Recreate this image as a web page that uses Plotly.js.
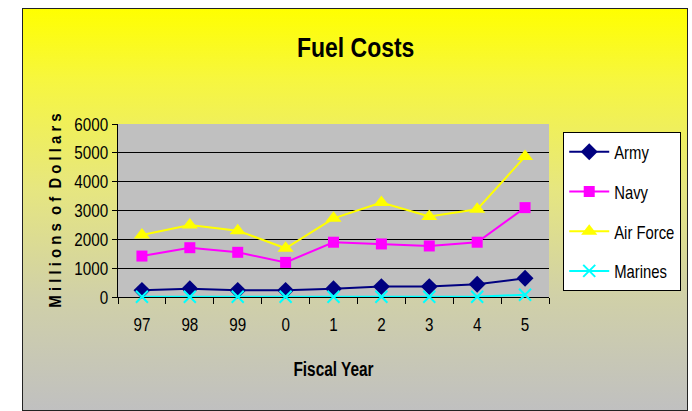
<!DOCTYPE html>
<html>
<head>
<meta charset="utf-8">
<script src="https://cdn.plot.ly/plotly-3.0.1.min.js"></script>
<style>
html,body{margin:0;padding:0;background:#ffffff;}
#frame{position:absolute;left:22px;top:8px;width:664px;height:401px;border:1px solid #222;
background:linear-gradient(to bottom,#ffff00 0%,#f6f640 18%,#e6e680 45%,#d0d0a8 72%,#c0c0c0 100%);}
#chart{position:absolute;left:0;top:0;width:692px;height:411px;}
</style>
</head>
<body>
<div id="frame"></div>
<div id="chart"></div>
<script>
const years = ["97","98","99","0","1","2","3","4","5"];
const army = [230, 290, 230, 230, 290, 360, 360, 440, 650];
const navy = [1420, 1710, 1550, 1200, 1900, 1840, 1770, 1900, 3100];
const airForce = [2150, 2500, 2300, 1690, 2730, 3280, 2790, 3040, 4870];
const marines = [10, 10, 10, 10, 10, 10, 10, 10, 80];
const yTicks = [0, 1000, 2000, 3000, 4000, 5000, 6000];

const F = "'Liberation Sans', Arial, sans-serif";

function tr(name, y, color, symbol, size, grp) {
  return {
    x: years, y: y, name: name, type: 'scatter', mode: 'lines+markers',
    legendgroup: grp, cliponaxis: false,
    line: {color: color, width: 2},
    marker: {symbol: symbol, size: size, color: color, line: {color: color, width: symbol.indexOf('x') === 0 ? 2 : 0}}
  };
}

const data = [
  tr('Army', army, '#000080', 'diamond', 13, 'a'),
  tr('Navy', navy, '#ff00ff', 'square', 11, 'b'),
  tr('Air Force', airForce, '#ffff00', 'triangle-up', 14, 'c'),
  tr('Marines', marines, '#00ffff', 'x-thin-open', 12, 'd')
];

const layout = {
  width: 692, height: 411,
  paper_bgcolor: 'rgba(0,0,0,0)',
  plot_bgcolor: '#c0c0c0',
  margin: {l: 118, r: 143, t: 124, b: 114, autoexpand: false},
  font: {family: F, size: 19, color: '#000'},
  title: {text: '<b>Fuel Costs</b>', font: {family: F, size: 28, color: '#000'},
          x: 0.514, xref: 'container', xanchor: 'center', y: 0.886, yref: 'container', yanchor: 'middle'},
  xaxis: {
    type: 'category', categoryorder: 'array', categoryarray: years,
    range: [-0.5, 8.5],
    showline: true, linecolor: '#000', linewidth: 1, layer: 'below traces',
    ticks: 'outside', tickson: 'boundaries', ticklen: 6, tickcolor: '#000',
    ticklabelstandoff: 10,
    showgrid: false, zeroline: false,
    tickfont: {family: F, size: 19},
    title: {text: '<b>Fiscal Year</b>', font: {family: F, size: 20}, standoff: 28}
  },
  yaxis: {
    range: [0, 6000], tickvals: yTicks, ticktext: yTicks.map(String),
    showline: true, linecolor: '#000', linewidth: 1, layer: 'below traces',
    ticks: 'outside', ticklen: 5, tickcolor: '#000',
    showgrid: true, gridcolor: '#000', gridwidth: 1, zeroline: false,
    tickfont: {family: F, size: 19},
    title: {text: '<b>M i l l i o n s  o f  D o l l a r s</b>', font: {family: F, size: 16}, standoff: 0}
  },
  legend: {
    x: 1.033, y: 0.954, xanchor: 'left', yanchor: 'top',
    bgcolor: '#ffffff', bordercolor: '#000', borderwidth: 1,
    font: {family: F, size: 19},
    traceorder: 'grouped', tracegroupgap: 12,
    itemwidth: 40
  },
  showlegend: true
};

function squeeze(gd, sel, f) {
  let saved = 0;
  gd.querySelectorAll(sel).forEach(t => {
    const L = t.getComputedTextLength();
    if (!L) return;
    t.setAttribute('textLength', (L * f).toFixed(2));
    t.setAttribute('lengthAdjust', 'spacingAndGlyphs');
    saved = Math.max(saved, L - L * f);
  });
  return saved;
}

Plotly.newPlot('chart', data, layout, {displayModeBar: false, staticPlot: true}).then(gd => {
  squeeze(gd, '.gtitle', 0.82);
  squeeze(gd, '.xtick text, .ytick text', 0.8);
  squeeze(gd, '.g-xtitle text', 0.77);
  squeeze(gd, '.g-ytitle text', 0.93);
  const saved = squeeze(gd, '.legendtext', 0.78);
  const bg = gd.querySelector('.legend rect.bg');
  if (bg) bg.setAttribute('width', (parseFloat(bg.getAttribute('width')) - saved).toFixed(1));
});
</script>
</body>
</html>
